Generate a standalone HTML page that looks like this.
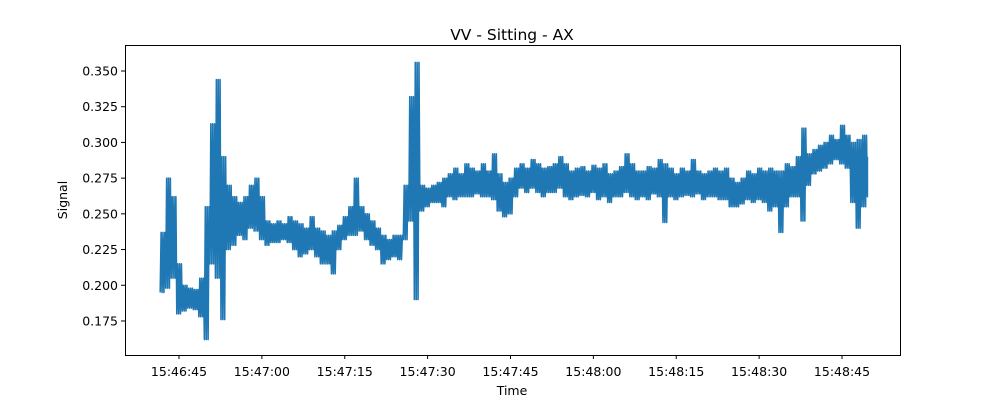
<!DOCTYPE html>
<html><head><meta charset="utf-8"><style>
body{margin:0;background:#fff;}
svg text{font-family:"DejaVu Sans","Liberation Sans",sans-serif;fill:#000;}
</style></head><body>
<svg id="chart" width="1000" height="400" xmlns="http://www.w3.org/2000/svg">
<rect width="1000" height="400" fill="#fff"/>
<text x="512" y="40" text-anchor="middle" font-size="15.5">VV - Sitting - AX</text>
<text x="512" y="395" text-anchor="middle" font-size="12.5">Time</text>
<text transform="translate(67,200) rotate(-90)" text-anchor="middle" font-size="12.5">Signal</text>
<g id="plot"></g>
<rect x="125.5" y="45.5" width="775" height="310" fill="none" stroke="#000" stroke-width="1"/>
</svg>
<script>
// start time: 15:46:41.6 (seconds offset per sample index = 1s)
const startSec = 15*3600+46*60+41.6;
const lowVals = [.195,.198,.205,.180,.182,.184,.183,.178,.162,.215,.205,.176,.225,.228,.235,.232,.240,.238,.232,.228,.230,.230,.232,.230,.225,.220,.222,.225,.220,.215,.215,.208,.225,.232,.235,.235,.238,.232,.228,.225,.215,.218,.220,.218,.232,.245,.190,.252,.255,.258,.258,.255,.262,.260,.262,.262,.262,.264,.262,.262,.260,.252,.248,.250,.262,.268,.265,.268,.265,.262,.265,.265,.268,.262,.260,.262,.263,.262,.265,.260,.262,.258,.262,.262,.265,.262,.260,.262,.260,.264,.262,.244,.262,.260,.262,.263,.262,.264,.260,.262,.262,.260,.260,.255,.255,.257,.260,.258,.260,.258,.252,.255,.237,.255,.262,.262,.245,.270,.278,.280,.282,.285,.288,.285,.282,.258,.240,.255,.262];
const highVals = [.237,.275,.262,.215,.200,.198,.197,.205,.255,.313,.344,.290,.270,.262,.258,.262,.270,.275,.262,.245,.243,.245,.243,.248,.245,.243,.240,.248,.240,.238,.235,.238,.242,.248,.255,.275,.255,.250,.245,.240,.235,.232,.235,.235,.270,.332,.356,.270,.268,.270,.272,.275,.278,.282,.278,.285,.282,.280,.285,.280,.292,.278,.272,.275,.282,.285,.282,.288,.285,.282,.283,.285,.290,.285,.280,.282,.283,.280,.284,.282,.285,.278,.280,.283,.292,.285,.280,.280,.283,.282,.288,.285,.282,.278,.282,.280,.288,.280,.278,.280,.282,.280,.282,.275,.272,.275,.280,.278,.282,.280,.282,.280,.280,.285,.283,.290,.310,.292,.295,.298,.300,.305,.302,.312,.305,.300,.302,.305,.290];
const yTicks = [0.175,0.200,0.225,0.250,0.275,0.300,0.325,0.350];
const xTickSecs = [15*3600+46*60+45,15*3600+47*60,15*3600+47*60+15,15*3600+47*60+30,15*3600+47*60+45,15*3600+48*60,15*3600+48*60+15,15*3600+48*60+30,15*3600+48*60+45];

const NS="http://www.w3.org/2000/svg";
const plot=document.getElementById('plot');
const svg=document.getElementById('chart');
function xScale(sec){return 179+(sec-(15*3600+46*60+45))*(663/120);}
function yScale(v){return 71+(0.35-v)*1428.4;}
function fmt(s){s=Math.round(s);const h=Math.floor(s/3600),m=Math.floor(s%3600/60),ss=s%60;return h+':'+String(m).padStart(2,'0')+':'+String(ss).padStart(2,'0');}

yTicks.forEach(v=>{
  const y=yScale(v);
  const l=document.createElementNS(NS,'line');
  l.setAttribute('x1',121);l.setAttribute('x2',125);l.setAttribute('y1',y);l.setAttribute('y2',y);l.setAttribute('stroke','#000');
  
  
  svg.appendChild(l);
  const t=document.createElementNS(NS,'text');
  t.setAttribute('x',118);t.setAttribute('y',y+4.5);t.setAttribute('text-anchor','end');t.setAttribute('font-size','12.5');
  t.textContent=v.toFixed(3);
  
  
  svg.appendChild(t);
});
xTickSecs.forEach(s=>{
  const x=xScale(s);
  const l=document.createElementNS(NS,'line');
  l.setAttribute('x1',x);l.setAttribute('x2',x);l.setAttribute('y1',355);l.setAttribute('y2',359);l.setAttribute('stroke','#000');
  
  
  svg.appendChild(l);
  const t=document.createElementNS(NS,'text');
  t.setAttribute('x',x);t.setAttribute('y',376);t.setAttribute('text-anchor','middle');t.setAttribute('font-size','12.5');
  t.textContent=fmt(s);
  
  
  svg.appendChild(t);
});
let pts=[];
const SUB=6;
for(let i=0;i<lowVals.length;i++){
  const s=startSec+i;
  if(i===lowVals.length-1){pts.push([xScale(s),yScale(lowVals[i])]);pts.push([xScale(s),yScale(highVals[i])]);break;}
  for(let k=0;k<SUB;k++){
    const f=k/SUB;
    pts.push([xScale(s+f),yScale(k%2===0?lowVals[i]:highVals[i])]);
  }
}
const pl=document.createElementNS(NS,'polyline');
pl.setAttribute('points',pts.map(p=>p[0].toFixed(2)+','+p[1].toFixed(2)).join(' '));
pl.setAttribute('fill','none');pl.setAttribute('stroke','#1f77b4');pl.setAttribute('stroke-width','1.6');pl.setAttribute('stroke-linejoin','round');


plot.appendChild(pl);
</script>
</body></html>
